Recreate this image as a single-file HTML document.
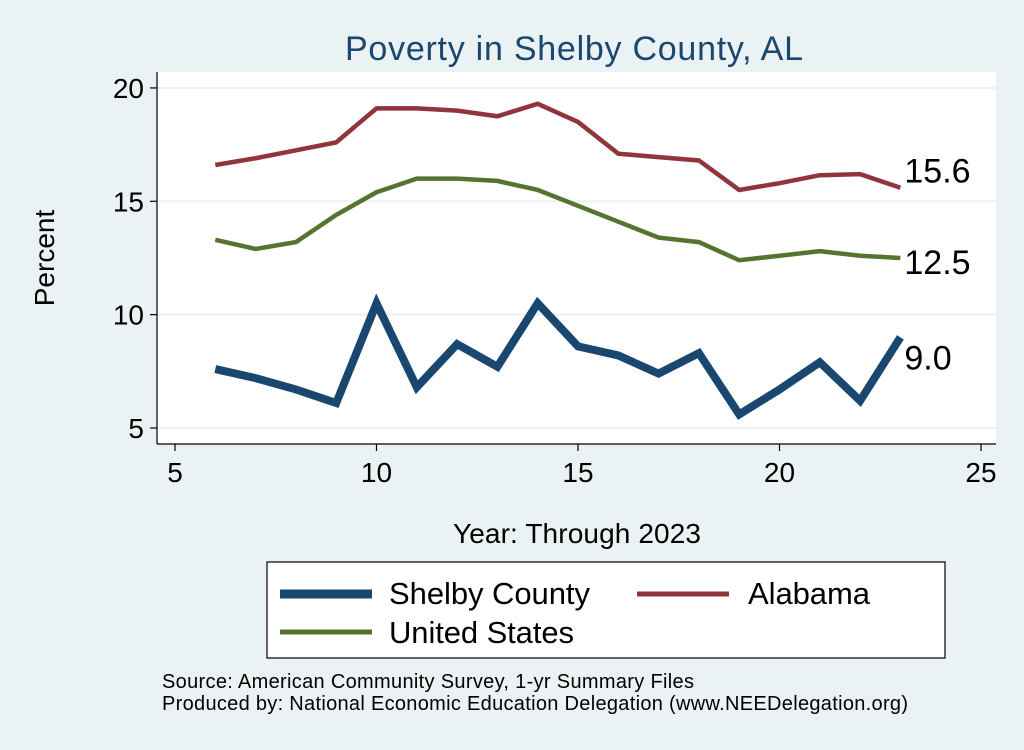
<!DOCTYPE html>
<html><head><meta charset="utf-8"><style>
body{margin:0;background:#eaf2f3;font-family:"Liberation Sans",Arial,sans-serif}
</style></head><body>
<svg id="c" width="1024" height="745" viewBox="0 0 1024 745" xmlns="http://www.w3.org/2000/svg">
<rect width="1024" height="745" fill="#eaf2f3"/>
<text x="574" y="60" font-size="34" fill="#1a476f" text-anchor="middle" textLength="458">Poverty in Shelby County, AL</text>
<rect x="157" y="72" width="839" height="372" fill="#fff"/>
<g id="grid"></g><g id="axes"></g><g id="series"></g>
<text x="54" y="258" font-size="28" text-anchor="middle" transform="rotate(-90 54 258)">Percent</text>
<text x="577" y="543" font-size="28" text-anchor="middle" textLength="248">Year: Through 2023</text>
<g>
<rect x="267" y="562" width="678" height="96" fill="#fff" stroke="#000" stroke-width="1.2"/>
<line x1="280" y1="594" x2="372" y2="594" stroke="#1a476f" stroke-width="9"/>
<text x="389" y="604" font-size="31" textLength="201">Shelby County</text>
<line x1="637" y1="594" x2="729" y2="594" stroke="#90353b" stroke-width="5"/>
<text x="748" y="604" font-size="31" textLength="122">Alabama</text>
<line x1="280" y1="632" x2="372" y2="632" stroke="#55752f" stroke-width="5"/>
<text x="389" y="643" font-size="31" textLength="185">United States</text>
</g>
<text x="162" y="688" font-size="20" textLength="532">Source: American Community Survey, 1-yr Summary Files</text>
<text x="162" y="710" font-size="20" textLength="746">Produced by: National Economic Education Delegation (www.NEEDelegation.org)</text>
</svg>
<script>
const years=[6,7,8,9,10,11,12,13,14,15,16,17,18,19,20,21,22,23];
const shelby=[7.6,7.2,6.7,6.1,10.5,6.8,8.7,7.7,10.5,8.6,8.2,7.4,8.3,5.6,6.7,7.9,6.2,9.0];
const alabama=[16.6,16.9,17.25,17.6,19.1,19.1,19.0,18.75,19.3,18.5,17.1,16.95,16.8,15.5,15.8,16.15,16.2,15.6];
const us=[13.3,12.9,13.2,14.4,15.4,16.0,16.0,15.9,15.5,14.8,14.1,13.4,13.2,12.4,12.6,12.8,12.6,12.5];
const xTicks=[5,10,15,20,25];
const yTicks=[5,10,15,20];
const NS='http://www.w3.org/2000/svg';
const X=v=>175+(v-5)*40.3;
const Y=v=>428-(v-5)*22.67;
function mk(t,a,p){const e=document.createElementNS(NS,t);for(const k in a)e.setAttribute(k,a[k]);p.appendChild(e);return e;}
const grid=document.getElementById('grid'),axes=document.getElementById('axes'),ser=document.getElementById('series');
yTicks.forEach(v=>{
 const g=mk('line',{x1:157,x2:996,y1:Y(v),y2:Y(v),stroke:'#eaf2f3','stroke-width':2},grid);
 
 
 const t=mk('line',{x1:150,x2:157,y1:Y(v),y2:Y(v),stroke:'#000','stroke-width':1.2},axes);
 
 
 const l=mk('text',{x:144,y:Y(v)+10,'font-size':28,'text-anchor':'end'},axes);l.textContent=v;
 
 
});
xTicks.forEach(v=>{
 const t=mk('line',{x1:X(v),x2:X(v),y1:444,y2:451,stroke:'#000','stroke-width':1.2},axes);
 
 
 const l=mk('text',{x:X(v),y:482,'font-size':28,'text-anchor':'middle'},axes);l.textContent=v;
 
 
});
const ya=mk('line',{x1:157,x2:157,y1:72,y2:444,stroke:'#000','stroke-width':1.2},axes);


const xa=mk('line',{x1:157,x2:996,y1:444,y2:444,stroke:'#000','stroke-width':1.2},axes);


function line(vals,color,w,name,dy){
 const p=mk('polyline',{points:years.map((y,i)=>X(y)+','+Y(vals[i])).join(' '),fill:'none',stroke:color,'stroke-width':w,'stroke-linejoin':'miter'},ser);
 
 
 const last=vals[vals.length-1];
 const t=mk('text',{x:X(years[years.length-1])+4,y:Y(last)+dy,'font-size':34},ser);
 t.textContent=last.toFixed(1);
 
 
}
line(alabama,'#90353b',4.5,'alabama',-5);
line(us,'#55752f',4.5,'us',16);
line(shelby,'#1a476f',8,'shelby',32);
</script>
</body></html>
